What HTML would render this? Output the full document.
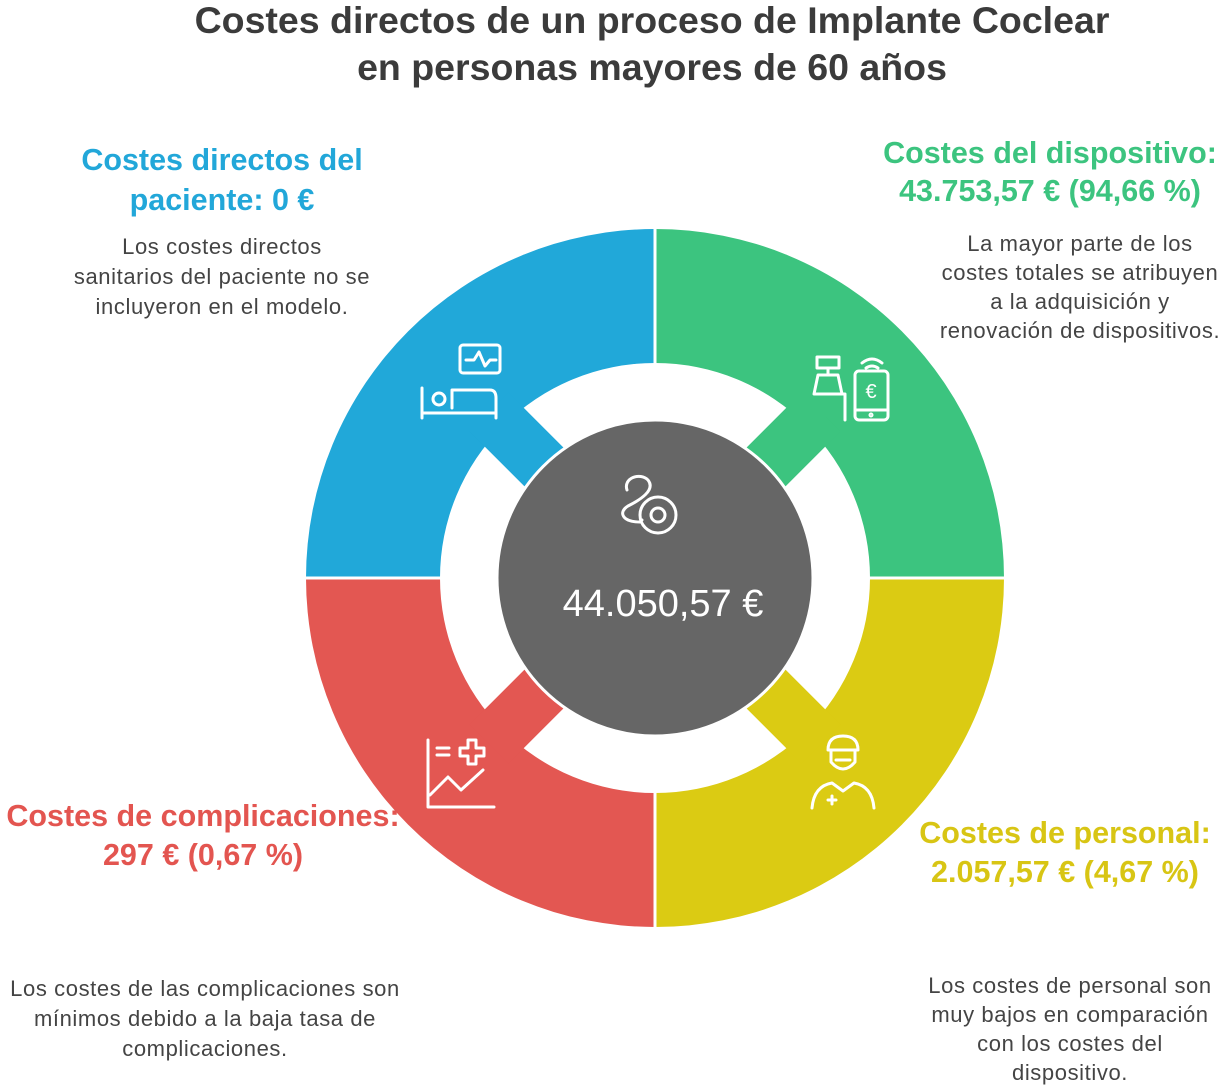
<!DOCTYPE html>
<html><head><meta charset="utf-8">
<style>
html,body{margin:0;padding:0;background:#fff;}
svg{display:block;font-family:"Liberation Sans",sans-serif;}
.h{font-weight:bold;font-size:30.5px;text-anchor:middle;}
.b{font-size:22px;letter-spacing:0.6px;fill:#444;text-anchor:middle;}
.ic{fill:none;stroke:#fff;stroke-width:3;stroke-linecap:round;stroke-linejoin:round;}
</style></head>
<body>
<svg id="chart" width="1226" height="1085" viewBox="0 0 1226 1085">
<g fill="#3b3b3b" font-weight="bold" font-size="37.5" text-anchor="middle">
<text x="652" y="33">Costes directos de un proceso de Implante Coclear</text>
<text x="652" y="80">en personas mayores de 60 años</text>
</g>
<g id="donut"></g>
<g>
<circle cx="655" cy="578" r="158" fill="#666" stroke="#fff" stroke-width="3"/>
<g class="ic">
<path d="M627 490 C623 478 640 472 648 480 C656 490 640 500 628 506 C618 512 622 522 640 522 L642 520"/>
<circle cx="658" cy="515" r="18"/><circle cx="658" cy="515" r="7"/>
</g>
<text x="663" y="616" fill="#fff" font-size="38" text-anchor="middle">44.050,57 €</text>
</g>
<g class="ic">
<rect x="460" y="345" width="40" height="28" rx="3"/><path d="M466 360 l8 0 l5-8 l6 14 l5-6 l6 0"/>
<path d="M422 388 v30 M422 413 h74 M496 398 v20 M452 408 v-18 h38 q6 0 6 8 v10"/><circle cx="439" cy="399" r="6"/>
</g>
<g class="ic">
<rect x="817" y="357" width="22" height="11"/><path d="M828 368 v7 M818 375 h20 l4 19 h-28 z M838 394 l7 0 v26"/>
<rect x="855" y="371" width="33" height="49" rx="4"/><path d="M855 410 h33"/><circle cx="871" cy="415" r="1"/>
<path d="M862 363 q10-8 20 0 M866 368 q6-4 12 0"/><text x="871" y="398" fill="#fff" stroke="none" font-size="20" text-anchor="middle">€</text>
</g>
<g class="ic">
<path d="M428 740 v67 h66 M430 795 l18-18 l13 13 l22-20"/><path d="M437 748 h12 M437 755 h12"/>
<path d="M468 740 h8 v8 h8 v8 h-8 v8 h-8 v-8 h-8 v-8 h8 z"/>
</g>
<g class="ic">
<path d="M828 750 q0-14 15-14 q15 0 15 14 z M831 750 v12 q12 14 24 0 v-12 M836 760 h14 M812 808 q2-22 20-25 l11 8 l11-8 q18 3 20 25"/>
<path d="M828 800 h8 M832 796 v8"/>
</g>
<g>
<text class="h" fill="#22a7d9" x="222" y="170">Costes directos del</text>
<text class="h" fill="#22a7d9" x="222" y="210">paciente: 0 €</text>
<text class="b" x="222" y="254">Los costes directos</text>
<text class="b" x="222" y="284">sanitarios del paciente no se</text>
<text class="b" x="222" y="314">incluyeron en el modelo.</text>
</g>
<g>
<text class="h" fill="#3cc47f" x="1050" y="163">Costes del dispositivo:</text>
<text class="h" fill="#3cc47f" x="1050" y="201">43.753,57 € (94,66 %)</text>
<text class="b" x="1080" y="251">La mayor parte de los</text>
<text class="b" x="1080" y="280">costes totales se atribuyen</text>
<text class="b" x="1080" y="309">a la adquisición y</text>
<text class="b" x="1080" y="338">renovación de dispositivos.</text>
</g>
<g>
<text class="h" fill="#e35550" x="203" y="826">Costes de complicaciones:</text>
<text class="h" fill="#e35550" x="203" y="865">297 € (0,67 %)</text>
<text class="b" x="205" y="996">Los costes de las complicaciones son</text>
<text class="b" x="205" y="1026">mínimos debido a la baja tasa de</text>
<text class="b" x="205" y="1056">complicaciones.</text>
</g>
<g>
<text class="h" fill="#d8c514" x="1065" y="843">Costes de personal:</text>
<text class="h" fill="#d8c514" x="1065" y="882">2.057,57 € (4,67 %)</text>
<text class="b" x="1070" y="993">Los costes de personal son</text>
<text class="b" x="1070" y="1022">muy bajos en comparación</text>
<text class="b" x="1070" y="1051">con los costes del</text>
<text class="b" x="1070" y="1080">dispositivo.</text>
</g>
</svg>
<script>
const segmentNames = ["patient", "device", "staff", "complications"];
const segmentColors = ["#21a8d9", "#3cc47f", "#dbcb13", "#e35752"];
const segmentStartAngles = [180, 270, 0, 90];
const cx = 655, cy = 578, rOut = 349, rIn = 215, armW = 55, armIn = 150;
const NS = "http://www.w3.org/2000/svg";
const donut = document.getElementById("donut");
function pt(r, a){ const t = a*Math.PI/180; return [cx + r*Math.cos(t), cy + r*Math.sin(t)]; }
segmentNames.forEach((n, i) => {
  const a0 = segmentStartAngles[i], a1 = a0 + 90;
  const p1 = pt(rOut, a0), p2 = pt(rOut, a1), p3 = pt(rIn, a1), p4 = pt(rIn, a0);
  const path = document.createElementNS(NS, "path");
  path.setAttribute("d", `M${p1} A${rOut} ${rOut} 0 0 1 ${p2} L${p3} A${rIn} ${rIn} 0 0 0 ${p4} Z`);
  path.setAttribute("fill", segmentColors[i]);
  
  
  donut.appendChild(path);
  const mid = a0 + 45;
  const arm = document.createElementNS(NS, "rect");
  arm.setAttribute("x", cx + armIn); arm.setAttribute("y", cy - armW/2);
  arm.setAttribute("width", rIn + 20 - armIn); arm.setAttribute("height", armW);
  arm.setAttribute("fill", segmentColors[i]);
  arm.setAttribute("transform", `rotate(${mid} ${cx} ${cy})`);
  
  
  donut.appendChild(arm);
});
[0, 90].forEach(a => {
  const l = document.createElementNS(NS, "rect");
  l.setAttribute("x", cx - rOut - 2); l.setAttribute("y", cy - 1.5);
  l.setAttribute("width", 2*rOut + 4); l.setAttribute("height", 3);
  l.setAttribute("fill", "#fff");
  l.setAttribute("transform", `rotate(${a} ${cx} ${cy})`);
  
  
  donut.appendChild(l);
});
</script>
</body></html>
